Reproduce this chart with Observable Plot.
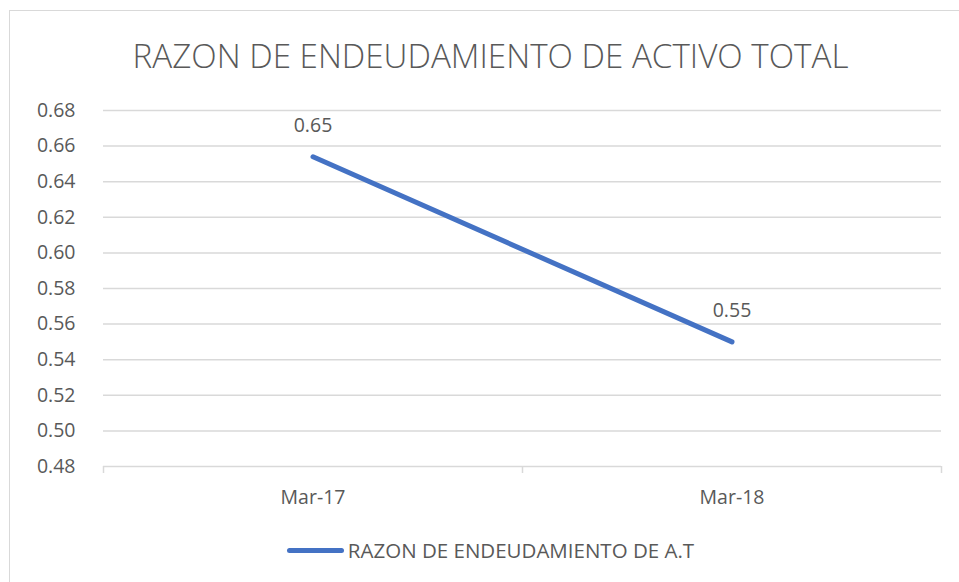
<!DOCTYPE html>
<html>
<head>
<meta charset="utf-8">
<script src="https://cdn.jsdelivr.net/npm/d3@7"></script>
<script src="https://cdn.jsdelivr.net/npm/@observablehq/plot@0.6"></script>
<style>
  html, body { margin: 0; padding: 0; background: #fff; width: 959px; height: 582px; overflow: hidden; }
  body { position: relative; font-family: "Open Sans", sans-serif; color: #595959; }
  #frame { position: absolute; left: 9px; top: 10px; width: 962px; height: 620px; border: 1px solid #d9d9d9; box-sizing: border-box; }
  #title { position: absolute; left: 9px; top: 40px; width: 963px; text-align: center; font-size: 33.2px; line-height: 32px; font-weight: 300; color: #595959; white-space: nowrap; }
  #chart { position: absolute; left: 0; top: 90px; }
  #legend { position: absolute; left: 9px; top: 538px; width: 963px; display: flex; justify-content: center; align-items: center; font-size: 20.5px; line-height: 24px; color: #595959; white-space: nowrap; }
  #legend .swatch { width: 57px; height: 5px; border-radius: 3px; background: #4472c4; margin-right: 4px; }
</style>
</head>
<body>
<div id="frame"></div>
<div id="title">RAZON DE ENDEUDAMIENTO DE ACTIVO TOTAL</div>
<div id="chart"></div>
<div id="legend"><span class="swatch"></span><span id="legend-text"></span></div>
<script>
// Data
const categories = ["Mar-17", "Mar-18"];
const seriesName = "RAZON DE ENDEUDAMIENTO DE A.T";
const values = [0.654, 0.55];
const yTicks = [0.48, 0.50, 0.52, 0.54, 0.56, 0.58, 0.60, 0.62, 0.64, 0.66, 0.68];

document.getElementById("legend-text").textContent = seriesName;

const rows = categories.map((c, i) => ({cat: c, idx: i + 0.5, value: values[i]}));
const bandEdges = d3.range(categories.length + 1);
const centers = categories.map((c, i) => i + 0.5);

const chart = Plot.plot({
  width: 959,
  height: 430,
  marginLeft: 103,
  marginRight: 18,
  marginTop: 20,
  marginBottom: 54,
  style: {fontFamily: "'Open Sans', sans-serif", fontSize: "19.5px", color: "#595959", background: "transparent"},
  x: {domain: [0, categories.length], axis: null, label: null},
  y: {domain: [0.48, 0.68], axis: null, label: null},
  marks: [
    Plot.ruleY(yTicks, {stroke: "#d9d9d9", strokeWidth: 1.5}),
    Plot.axisY({ticks: yTicks, tickFormat: d3.format(".2f"), tickSize: 0, tickPadding: 28, fill: "#595959", fontSize: 19.5, label: null}),
    Plot.axisX({ticks: bandEdges, tickFormat: () => "", tickSize: 7, stroke: "#d9d9d9", strokeWidth: 1.5, label: null}),
    Plot.axisX({ticks: centers, tickFormat: (d) => categories[Math.floor(d)], tickSize: 0, tickPadding: 24, fill: "#595959", fontSize: 19.5, label: null}),
    Plot.line(rows, {x: "idx", y: "value", stroke: "#4472c4", strokeWidth: 5, strokeLinecap: "round"}),
    Plot.text(rows, {x: "idx", y: "value", text: (d) => d3.format(".2f")(d.value), dy: -31, fill: "#595959", fontSize: 19.5})
  ]
});
document.getElementById("chart").appendChild(chart);
</script>
</body>
</html>
